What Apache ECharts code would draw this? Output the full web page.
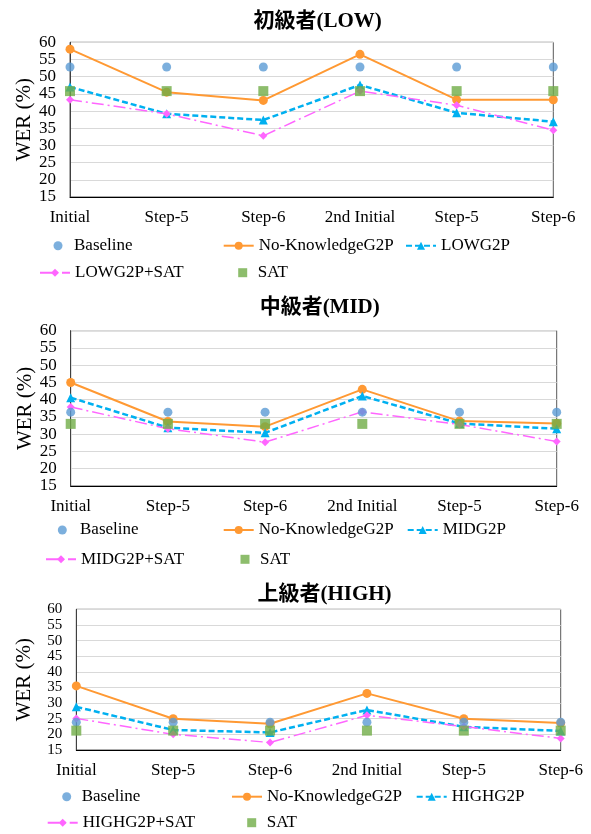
<!DOCTYPE html>
<html><head><meta charset="utf-8">
<script src="https://cdn.jsdelivr.net/npm/echarts@6/dist/echarts.min.js"></script>
<style>html,body{margin:0;padding:0;background:#fff}#c{width:591px;height:834px}</style>
</head><body><div id="c"></div>
<script>
const categories = ['Initial','Step-5','Step-6','2nd Initial','Step-5','Step-6'];
const yTicks = {min:15, max:60, interval:5};
const titles = ['初級者(LOW)','中級者(MID)','上級者(HIGH)'];
const seriesNamesLow = ['Baseline','No-KnowledgeG2P','LOWG2P','LOWG2P+SAT','SAT'];
const seriesNamesMid = ['Baseline','No-KnowledgeG2P','MIDG2P','MIDG2P+SAT','SAT'];
const seriesNamesHigh = ['Baseline','No-KnowledgeG2P','HIGHG2P','HIGHG2P+SAT','SAT'];

const baselineLow = [52.8,52.8,52.8,52.8,52.8,52.8];
const noKnowledgeLow = [58.0,45.5,43.1,56.5,43.3,43.3];
const g2pLow = [47.0,39.2,37.4,47.6,39.5,36.9];
const g2pSatLow = [43.3,39.2,32.8,45.8,41.7,34.4];
const satLow = [45.8,45.8,45.8,45.8,45.8,45.8];

const baselineMid = [36.4,36.4,36.4,36.4,36.4,36.4];
const noKnowledgeMid = [45.0,33.7,32.2,43.0,33.8,33.1];
const g2pMid = [40.6,31.9,30.4,41.1,33.1,31.6];
const g2pSatMid = [37.9,31.6,27.7,36.5,32.8,27.9];
const satMid = [33.0,33.0,33.0,33.0,33.0,33.0];

const baselineHigh = [23.9,23.9,23.9,23.9,23.9,23.9];
const noKnowledgeHigh = [35.5,25.0,23.4,33.1,25.0,23.6];
const g2pHigh = [28.8,21.4,20.6,27.8,22.4,21.1];
const g2pSatHigh = [25.1,20.0,17.4,26.1,22.5,18.7];
const satHigh = [21.2,21.2,21.2,21.2,21.2,21.2];

const SERIF = '"Liberation Serif","Times New Roman",serif';
const C = {base:'#5B9BD5', nok:'#FF9933', g2p:'#00B0F0', sat2:'#FF66FF', sat:'#70AD47'};

const layouts = [
  {grid:{left:70, top:42.3, width:483.3, height:154.7}, titleTop:11, nameGap:35, yFont:17,
   names:seriesNamesLow, data:[baselineLow,noKnowledgeLow,g2pLow,g2pSatLow,satLow],
   leg:{row1:245.7,row2:272.7, c1:58, t1:74, t2:257.7, t3:440, t4:74, c5:242.7, t5:257.7}},
  {grid:{left:70.7, top:330.7, width:486, height:155.3}, titleTop:297, nameGap:35, yFont:17,
   names:seriesNamesMid, data:[baselineMid,noKnowledgeMid,g2pMid,g2pSatMid,satMid],
   leg:{row1:530,row2:559.3, c1:62.3, t1:80, t2:257.7, t3:441.7, t4:80, c5:245, t5:260}},
  {grid:{left:76.3, top:609.3, width:484.4, height:140.7}, titleTop:584, nameGap:41, yFont:15,
   names:seriesNamesHigh, data:[baselineHigh,noKnowledgeHigh,g2pHigh,g2pSatHigh,satHigh],
   leg:{row1:796.7,row2:822.7, c1:66.7, t1:81.7, t2:266, t3:450.7, t4:81.7, c5:251.7, t5:266.7}}
];

const option = {animation:false, backgroundColor:'#fff',
  title:[], grid:[], xAxis:[], yAxis:[], series:[], legend:[]};

layouts.forEach((L, i) => {
  const cx = L.grid.left + L.grid.width/2 + 6;
  option.title.push({text:titles[i], left:cx, top:L.titleTop, textAlign:'center', padding:0,
    textStyle:{fontFamily:'"Liberation Serif","Noto Sans CJK JP",serif', fontWeight:'bold', fontSize:21, color:'#000'}});
  option.grid.push(Object.assign({show:true, borderColor:'#595959', borderWidth:1, containLabel:false}, L.grid));
  option.xAxis.push({type:'category', gridIndex:i, data:categories, boundaryGap:false,
    axisLine:{lineStyle:{color:'#000', width:1}}, axisTick:{show:false},
    axisLabel:{fontFamily:SERIF, fontSize:17, color:'#000', margin:12, interval:0}});
  option.yAxis.push({type:'value', gridIndex:i, min:yTicks.min, max:yTicks.max, interval:yTicks.interval,
    name:'WER (%)', nameLocation:'middle', nameGap:L.nameGap, nameMoveOverlap:false,
    nameTextStyle:{fontFamily:SERIF, fontSize:21, color:'#000'},
    axisLine:{show:true, lineStyle:{color:'#404040', width:1}}, axisTick:{show:false},
    axisLabel:{fontFamily:SERIF, fontSize:L.yFont, color:'#000', margin:14,
      showMinLabel:true, showMaxLabel:true, hideOverlap:false},
    splitLine:{lineStyle:{color:'#D9D9D9', width:1}}});
  const [b, n, g, gs, s] = L.data;
  const nm = L.names;
  option.series.push(
    {name:nm[1], type:'line', xAxisIndex:i, yAxisIndex:i, data:n, color:C.nok,
     lineStyle:{color:C.nok, width:2}, symbol:'circle', symbolSize:9, itemStyle:{color:C.nok}, z:3},
    {name:nm[2], type:'line', xAxisIndex:i, yAxisIndex:i, data:g, color:C.g2p,
     lineStyle:{color:C.g2p, width:2.5, type:[6,3]}, symbol:'triangle', symbolSize:9, itemStyle:{color:C.g2p}, z:3},
    {name:nm[3], type:'line', xAxisIndex:i, yAxisIndex:i, data:gs, color:C.sat2,
     lineStyle:{color:C.sat2, width:1.5, type:[12,4,2,4]}, symbol:'diamond', symbolSize:8, itemStyle:{color:C.sat2}, z:3},
    {name:nm[0], type:'scatter', xAxisIndex:i, yAxisIndex:i, data:b, color:C.base,
     symbol:'circle', symbolSize:9, itemStyle:{color:C.base}, z:4},
    {name:nm[4], type:'scatter', xAxisIndex:i, yAxisIndex:i, data:s, color:C.sat,
     symbol:'rect', symbolSize:10, itemStyle:{color:C.sat}, z:4}
  );
  const lg = L.leg;
  const items = [
    {name:nm[0], text:lg.t1, row:lg.row1, c:lg.c1, icon:'circle'},
    {name:nm[1], text:lg.t2, row:lg.row1, w:30},
    {name:nm[2], text:lg.t3, row:lg.row1, w:30},
    {name:nm[3], text:lg.t4, row:lg.row2, w:30},
    {name:nm[4], text:lg.t5, row:lg.row2, c:lg.c5, icon:'rect'}
  ];
  items.forEach(it => {
    const d = {name:it.name};
    let left, w, pad = 0;
    if (it.icon) {
      d.icon = it.icon; w = 9; left = it.c - 4.5; pad = it.text - (left + w + 5);
    } else { w = it.w; left = it.text - 5 - w; }
    option.legend.push({data:[d], left:left, top:it.row - 10, padding:0,
      itemWidth:w, itemHeight:it.icon ? 9 : 10, itemGap:0, selectedMode:false,
      textStyle:{fontFamily:SERIF, fontSize:17, color:'#000', lineHeight:20, padding:[0,0,0,pad]}});
  });
});

const chart = echarts.init(document.getElementById('c'), null, {renderer:'canvas'});
chart.setOption(option);
</script></body></html>
